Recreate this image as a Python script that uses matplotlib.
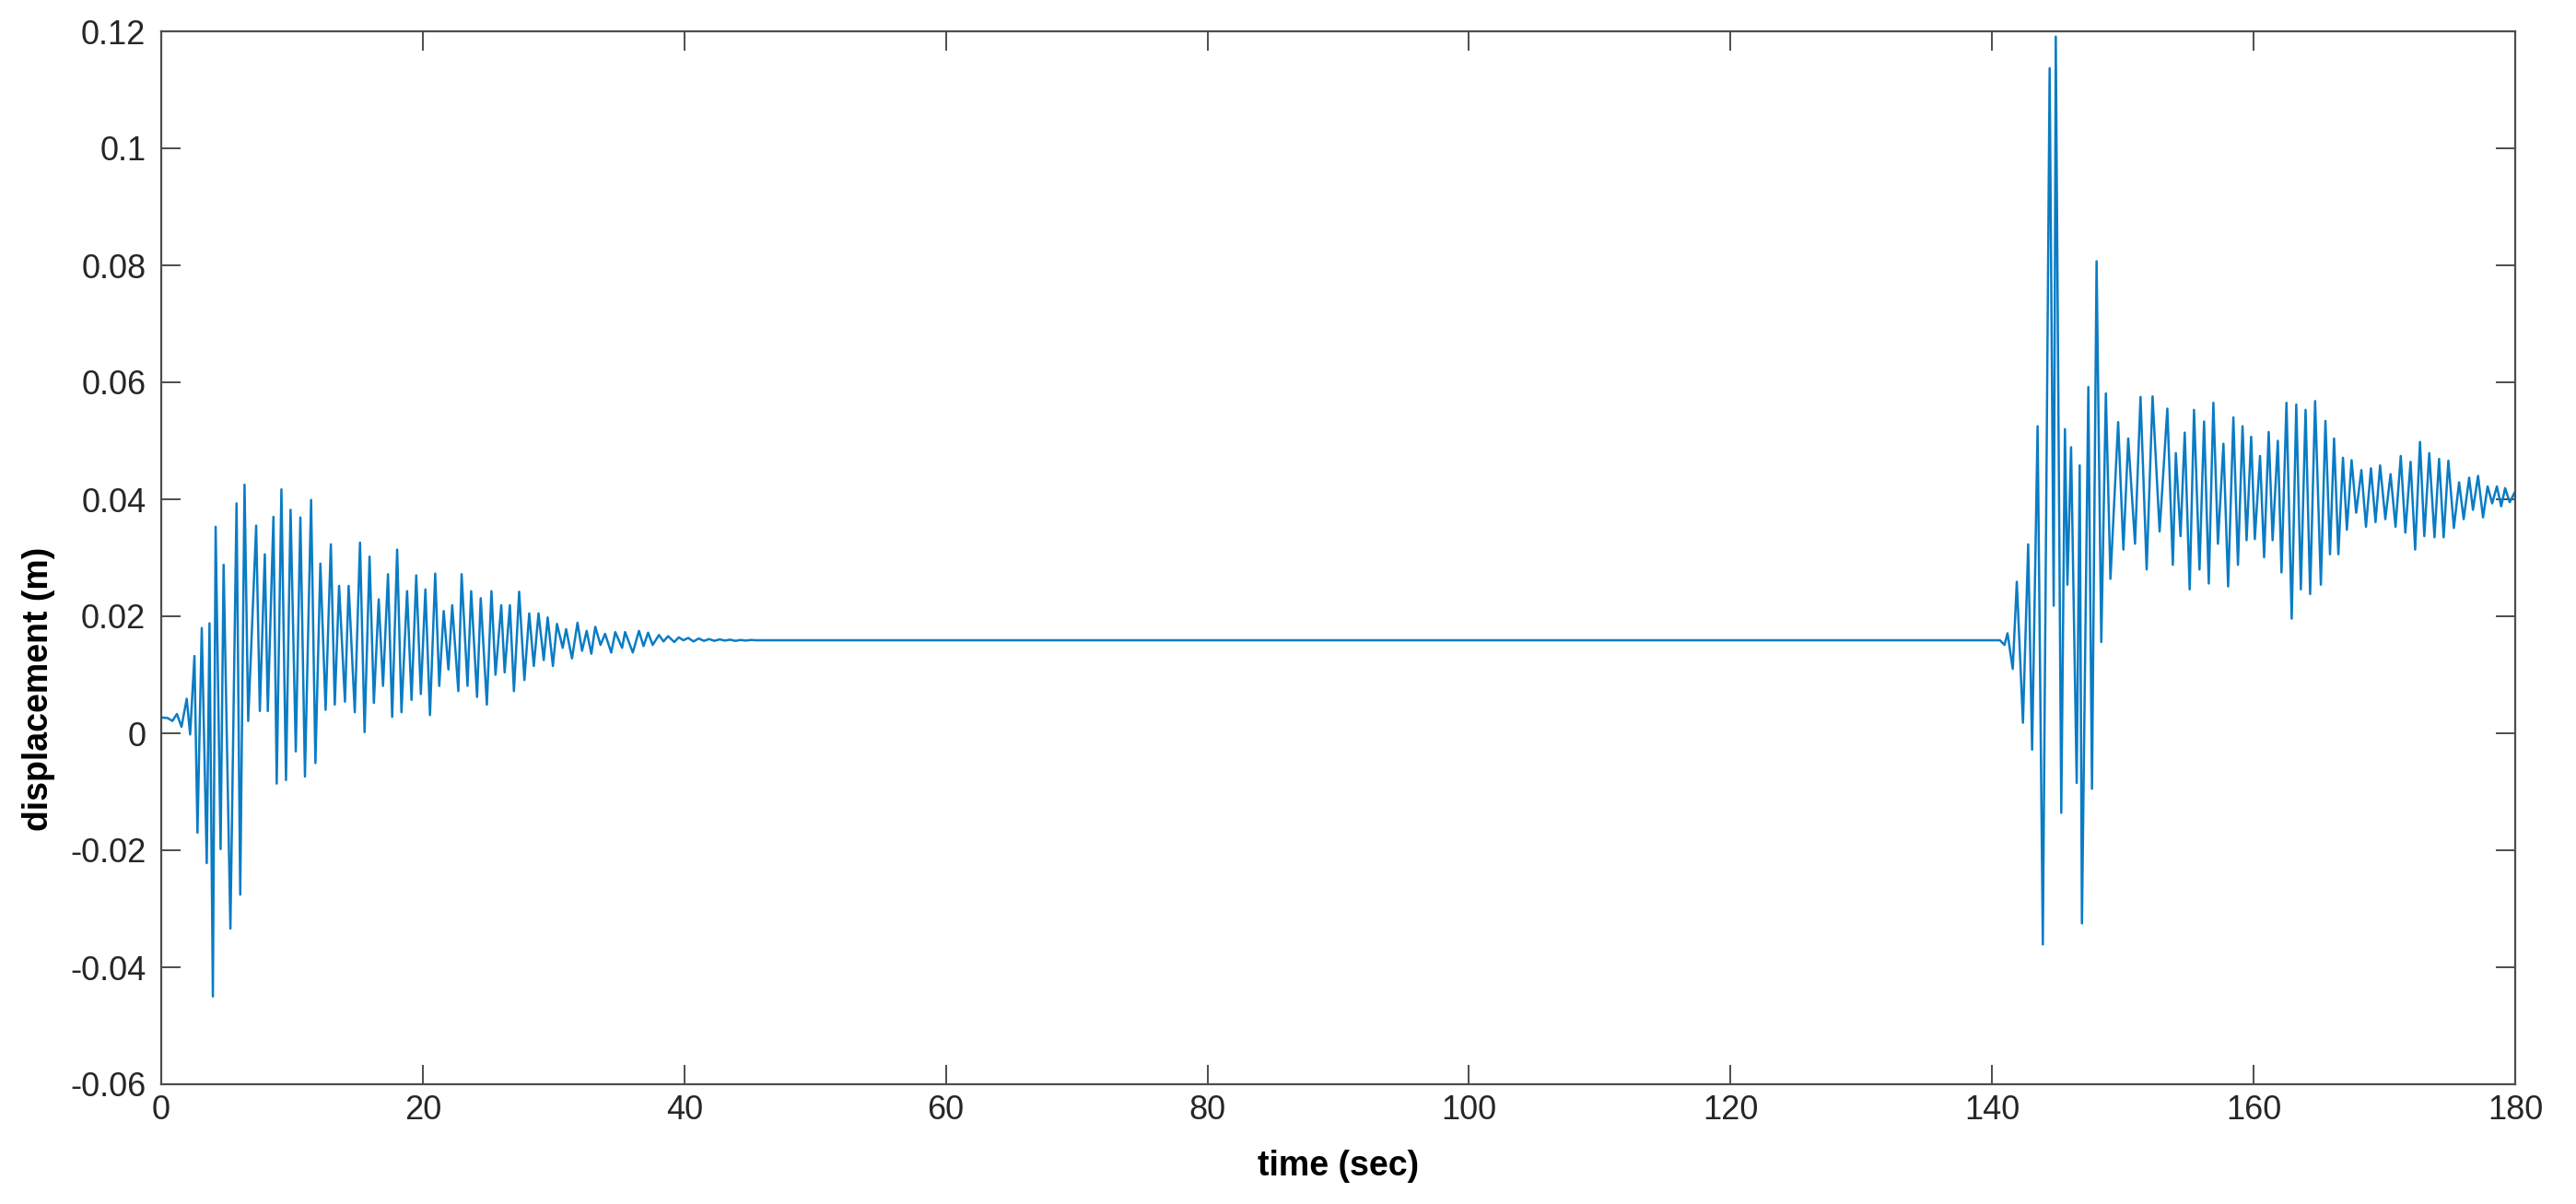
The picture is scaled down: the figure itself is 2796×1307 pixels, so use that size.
import matplotlib
matplotlib.use('Agg')
import matplotlib.pyplot as plt
import numpy as np

# ---- data (extrema of the displacement record) ----
# quiet start + first burst (0 - 12 s)
t_burst1a = [0.0, 0.5, 0.85, 1.20, 1.55, 1.95, 2.21, 2.54, 2.77, 3.10, 3.48, 3.69,
             3.95, 4.16, 4.54, 4.77, 5.29, 5.76, 6.04, 6.37, 6.65, 7.26, 7.54, 7.92,
             8.15, 8.58, 8.83, 9.19, 9.54, 9.89, 10.29, 10.64, 10.99, 11.46, 11.79]
d_burst1a = [0.0027, 0.0026, 0.0021, 0.0033, 0.0011, 0.0059, -0.0002, 0.0132, -0.0170,
             0.0180, -0.0222, 0.0188, -0.0450, 0.0353, -0.0198, 0.0288, -0.0334, 0.0393,
             -0.0276, 0.0425, 0.0021, 0.0355, 0.0038, 0.0306, 0.0038, 0.0370, -0.0086,
             0.0417, -0.0080, 0.0382, -0.0031, 0.0369, -0.0074, 0.0399, -0.0051]

# decaying part of first burst (12 - 40 s)
t_burst1b = [12.17, 12.57, 12.97, 13.27, 13.60, 14.05, 14.33, 14.80, 15.20, 15.55,
             15.93, 16.26, 16.63, 16.96, 17.34, 17.66, 18.04, 18.37, 18.80, 19.14,
             19.50, 19.85, 20.20, 20.55, 20.95, 21.26, 21.60, 21.96, 22.25, 22.72,
             22.97, 23.42, 23.70, 24.15, 24.43, 24.90, 25.25, 25.56, 26.00, 26.26,
             26.66, 26.97, 27.37, 27.77, 28.14, 28.49, 28.85, 29.25, 29.55, 29.95,
             30.26, 30.70, 30.96, 31.41, 31.83, 32.18, 32.53, 32.89, 33.19, 33.59,
             33.94, 34.41, 34.72, 35.24, 35.47, 36.06, 36.53, 36.88, 37.23, 37.58,
             38.06, 38.41, 38.76, 39.23, 39.58, 39.93]
d_burst1b = [0.0290, 0.0040, 0.0323, 0.0049, 0.0252, 0.0054, 0.0252, 0.0036, 0.0326, 0.0002,
             0.0302, 0.0052, 0.0229, 0.0081, 0.0272, 0.0028, 0.0314, 0.0036, 0.0243, 0.0057,
             0.0270, 0.0067, 0.0246, 0.0031, 0.0273, 0.0081, 0.0209, 0.0109, 0.0219, 0.0072,
             0.0272, 0.0081, 0.0243, 0.0062, 0.0231, 0.0049, 0.0243, 0.0100, 0.0219, 0.0104,
             0.0219, 0.0072, 0.0242, 0.0091, 0.0205, 0.0115, 0.0205, 0.0125, 0.0198, 0.0115,
             0.0187, 0.0146, 0.0178, 0.0128, 0.0189, 0.0141, 0.0175, 0.0136, 0.0182, 0.0151,
             0.0170, 0.0138, 0.0173, 0.0146, 0.0173, 0.0138, 0.0175, 0.0149, 0.0172, 0.0151,
             0.0168, 0.0157, 0.0166, 0.0156, 0.0164, 0.0159]

# tail of first burst and the long rest (40 - 141 s)
t_rest = [40.3, 40.7, 41.1, 41.5, 41.9, 42.3, 42.7, 43.1, 43.5, 43.9, 44.3, 44.7, 45.1,
          45.5, 46.0, 100.0, 140.6, 140.95]
d_rest = [0.0163, 0.0157, 0.0162, 0.0158, 0.0161, 0.0158, 0.01605, 0.01585, 0.0160,
          0.0158, 0.01595, 0.01585, 0.01595, 0.0159, 0.0159, 0.0159, 0.0159, 0.0151]

# second burst (141 - 150 s)
t_burst2a = [141.18, 141.58, 141.89, 142.36, 142.76, 143.06, 143.48, 143.88, 144.40,
             144.71, 144.87, 145.29, 145.57, 145.76, 146.04, 146.47, 146.70, 146.87,
             147.36, 147.64, 147.99, 148.35, 148.70, 149.05]
d_burst2a = [0.0171, 0.0110, 0.0259, 0.0018, 0.0323, -0.0028, 0.0525, -0.0361, 0.1137,
             0.0218, 0.1191, -0.0136, 0.0520, 0.0254, 0.0489, -0.0085, 0.0458, -0.0325,
             0.0592, -0.0095, 0.0807, 0.0156, 0.0581, 0.0264]

# second burst, sustained part (149.6 - 165 s)
t_burst2b = [149.64, 150.04, 150.41, 150.93, 151.35, 151.82, 152.27, 152.81, 153.40,
             153.82, 154.05, 154.41, 154.73, 155.11, 155.44, 155.86, 156.21, 156.57,
             156.92, 157.27, 157.69, 158.05, 158.45, 158.80, 159.15, 159.46, 159.81,
             160.09, 160.49, 160.80, 161.15, 161.45, 161.85, 162.13, 162.51, 162.91,
             163.26, 163.61, 163.97, 164.32, 164.70]
d_burst2b = [0.0532, 0.0314, 0.0504, 0.0324, 0.0575, 0.0280, 0.0576, 0.0345, 0.0555,
             0.0288, 0.0479, 0.0337, 0.0514, 0.0246, 0.0553, 0.0280, 0.0533, 0.0256,
             0.0565, 0.0324, 0.0495, 0.0251, 0.0540, 0.0288, 0.0525, 0.0330, 0.0507,
             0.0332, 0.0474, 0.0301, 0.0515, 0.0330, 0.0500, 0.0275, 0.0565, 0.0196,
             0.0562, 0.0246, 0.0553, 0.0238, 0.0568]

# second burst, decaying part (165 - 180 s)
t_burst2c = [165.14, 165.49, 165.84, 166.15, 166.48, 166.83, 167.13, 167.49, 167.84,
             168.24, 168.59, 168.97, 169.32, 169.67, 170.07, 170.47, 170.85, 171.25,
             171.60, 172.00, 172.35, 172.72, 173.05, 173.43, 173.83, 174.18, 174.53,
             174.89, 175.31, 175.71, 176.06, 176.48, 176.77, 177.16, 177.54, 177.89,
             178.24, 178.60, 178.93, 179.23, 179.58, 179.94, 180.0]
d_burst2c = [0.0254, 0.0534, 0.0306, 0.0504, 0.0306, 0.0471, 0.0348, 0.0467, 0.0377,
             0.0450, 0.0353, 0.0453, 0.0361, 0.0458, 0.0366, 0.0443, 0.0353, 0.0474,
             0.0343, 0.0464, 0.0314, 0.0498, 0.0337, 0.0479, 0.0335, 0.0469, 0.0335,
             0.0466, 0.0351, 0.0429, 0.0366, 0.0437, 0.0382, 0.0440, 0.0369, 0.0422,
             0.0393, 0.0422, 0.0388, 0.0419, 0.0395, 0.0411, 0.0405]

x_ticks = [0, 20, 40, 60, 80, 100, 120, 140, 160, 180]
x_tick_labels = ['0', '20', '40', '60', '80', '100', '120', '140', '160', '180']
y_ticks = [-0.06, -0.04, -0.02, 0.0, 0.02, 0.04, 0.06, 0.08, 0.1, 0.12]
y_tick_labels = ['-0.06', '-0.04', '-0.02', '0', '0.02', '0.04', '0.06', '0.08', '0.1', '0.12']

t = np.concatenate([t_burst1a, t_burst1b, t_rest, t_burst2a, t_burst2b, t_burst2c])
d = np.concatenate([d_burst1a, d_burst1b, d_rest, d_burst2a, d_burst2b, d_burst2c])

plt.rcParams['font.family'] = ['Liberation Sans', 'DejaVu Sans']

fig = plt.figure(figsize=(27.96, 13.07), dpi=100)
ax = fig.add_axes([175 / 2796, 1 - 1177 / 1307, (2730 - 175) / 2796, (1177 - 34) / 1307])
ax.plot(t, d, color='#0A7CC4', lw=1.8, solid_joinstyle='round')

ax.set_xlim(0, 180)
ax.set_ylim(-0.06, 0.12)
ax.set_xticks(x_ticks)
ax.set_xticklabels(x_tick_labels)
ax.set_yticks(y_ticks)
ax.set_yticklabels(y_tick_labels)

ax.tick_params(direction='in', length=15, width=1.4, top=True, right=True,
               labelsize=26, color='#4d4d4d', labelcolor='#262626')
ax.tick_params(axis='x', pad=8)
ax.tick_params(axis='y', pad=12)
for s in ax.spines.values():
    s.set_color('#4d4d4d')
    s.set_linewidth(1.6)

ax.set_xlabel('time (sec)', fontsize=27, fontweight='bold', color='#000000')
ax.set_ylabel('displacement (m)', fontsize=27, fontweight='bold', color='#000000')
ax.xaxis.set_label_coords(0.5, -0.062)
ax.yaxis.set_label_coords(-0.045, 0.375)

fig.savefig('out.png', dpi=100, facecolor='white')
